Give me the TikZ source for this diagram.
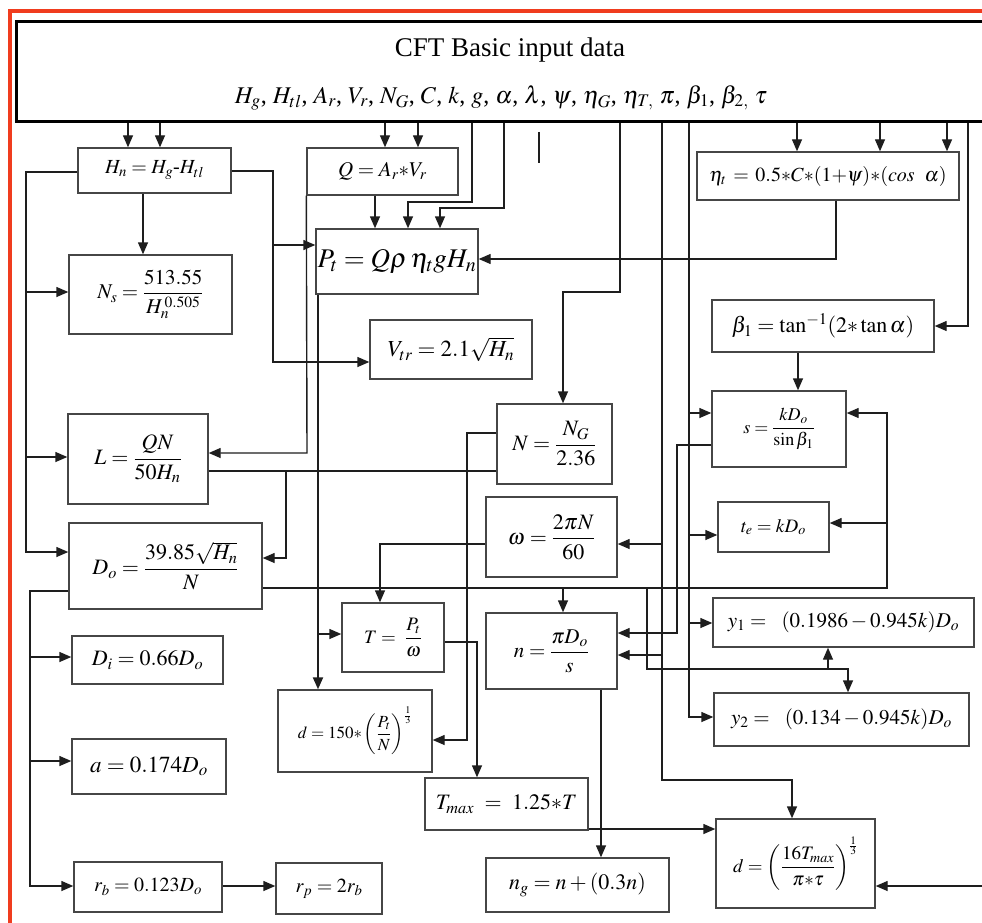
\documentclass[tikz,border=0pt]{standalone}
\usepackage{amsmath}
\usepackage{mathptmx}
\usepackage[no-math]{fontspec}
\setmainfont{Liberation Serif}
\usetikzlibrary{arrows.meta}
\definecolor{frame}{RGB}{240,60,30}
\definecolor{ln}{RGB}{30,30,30}
\definecolor{bx}{RGB}{70,70,70}
\tikzset{
  box/.style={draw=bx, line width=1.4pt, inner sep=0pt},
  conn/.style={draw=ln, line width=1.4pt},
  arr/.style={conn, -{Triangle[length=12pt,width=10pt]}},
  thickarr/.style={arr, line width=2pt},
}
\newcommand{\mkbox}[7]{\node[box, minimum width={#4pt-#2pt}, minimum height={#5pt-#3pt}] (#1) at ({(#2+#4)/2},{(#3+#5)/2}) {\fontsize{#6}{#6}\selectfont #7};}
\begin{document}
\begin{tikzpicture}[x=1pt,y=-1pt]
\useasboundingbox (0,0) rectangle (982,923);
\fill[white] (0,0) rectangle (982,923);
\clip (0,0) rectangle (982,923);
% red frame
\draw[frame, line width=4pt] (10,1100) -- (10,11) -- (1100,11);
% top box
\node[draw=black, line width=3pt, minimum width=1000pt, minimum height=100pt, inner sep=0pt] (top) at (516,72) {};
\node (title) at (510,50) {\fontsize{27}{27}\selectfont CFT Basic input data};
\node (vars) at (501,98) {\fontsize{24}{24}\selectfont $H_g$, $H_{tl}$, $A_r$, $V_r$, $N_G$, $C$, $k$, $g$, $\alpha$, $\lambda$, $\psi$, $\eta_G$, $\eta_{T,}$ $\pi$, $\beta_1$, $\beta_{2,}$ $\tau$};
% boxes
\mkbox{Hn}{78}{148}{231}{193}{20}{$H_n = H_g$-$H_{tl}$}
\mkbox{Q}{307}{148}{458}{195}{21}{$Q = A_r{*}V_r$\hspace{20pt}}
\mkbox{Pt}{316}{229}{478}{294}{27}{$P_t = Q\rho\,\eta_t gH_n$}
\mkbox{eta}{697}{152}{959}{200}{20}{$\eta_t\, = \,0.5{*}C{*}(1{+}\psi){*}(cos\ \ \alpha)$}
\mkbox{Ns}{69}{255}{232}{334}{21}{$N_s = \dfrac{513.55}{H_n^{\,0.505}}$}
\mkbox{Vtr}{370}{320}{532}{379}{23}{$V_{tr} = 2.1\sqrt{H_n}$}
\mkbox{beta}{712}{300}{934}{352}{22}{$\beta_1 = \tan^{-1}(2{*}\tan\alpha)$}
\mkbox{L}{68}{414}{208}{504}{22}{$L = \dfrac{QN}{50H_n}$}
\mkbox{N}{497}{404}{612}{484}{22}{$N = \dfrac{N_G}{2.36}$}
\mkbox{s}{712}{391}{846}{467}{18}{$s = \dfrac{kD_o}{\sin\beta_1}$}
\mkbox{Do}{69}{523}{262}{609}{22}{$D_o = \dfrac{39.85\sqrt{H_n}}{N}$}
\mkbox{omega}{486}{497}{617}{577}{22}{$\omega = \dfrac{2\pi N}{60}$}
\mkbox{te}{718}{502}{829}{552}{19}{$t_e = kD_o$}
\mkbox{T}{342}{603}{444}{672}{19}{$T = \ \dfrac{P_t}{\omega}$}
\mkbox{n}{486}{613}{617}{689}{21}{$n = \dfrac{\pi D_o}{s}$}
\mkbox{y1}{713}{598}{974}{647}{21}{$y_1 = \ \ (0.1986 - 0.945k)D_o$}
\mkbox{y2}{714}{693}{969}{746}{21}{$y_2 = \ \ (0.134 - 0.945k)D_o$}
\mkbox{Di}{72}{636}{223}{684}{22}{$D_i = 0.66D_o$}
\mkbox{dA}{278}{690}{432}{772}{17}{$d = 150{*}\left(\dfrac{P_t}{N}\right)^{\frac{1}{3}}$}
\mkbox{a}{72}{739}{226}{794}{23}{$a = 0.174D_o$}
\mkbox{Tmax}{425}{778}{588}{830}{22}{$T_{max}\ = \ 1.25{*}T$}
\mkbox{d}{716}{819}{875}{908}{19}{$d = \left(\dfrac{16T_{max}}{\pi{*}\tau}\right)^{\frac{1}{3}}$}
\mkbox{rb}{74}{862}{222}{912}{20}{$r_b = 0.123D_o$}
\mkbox{rp}{276}{863}{382}{914}{20}{$r_p = 2r_b$}
\mkbox{ng}{486}{858}{669}{912}{22}{$n_g = n + (0.3n)$}
% free coordinates
\coordinate (st1) at (539,132);
\coordinate (st2) at (539,163);
\coordinate (rin) at (995,886);
% connectors from top box
\draw[arr] (top.south -| 128,0) -- (Hn.north -| 128,0);
\draw[arr] (top.south -| 160,0) -- (Hn.north -| 160,0);
\draw[arr] (top.south -| 385,0) -- (Q.north -| 385,0);
\draw[arr] (top.south -| 418,0) -- (Q.north -| 418,0);
\draw[arr] (top.south -| 797,0) -- (eta.north -| 797,0);
\draw[arr] (top.south -| 880,0) -- (eta.north -| 880,0);
\draw[arr] (top.south -| 947,0) -- (eta.north -| 947,0);
\draw[arr] (top.south -| 472,0) -- (472,202) -| (Pt.north -| 408,0);
\draw[arr] (top.south -| 504,0) -- (504,208) -| (Pt.north -| 440,0);
\draw[conn] (st1) -- (st2);
\draw[arr] (top.south -| 620,0) -- (620,292) -| (N.north -| 563,0);
\draw[arr] (top.south -| 662,0) -- (662,780) -| (d.north -| 792,0);
\draw[arr] (662,544) -- (omega.east |- 0,544);
\draw[arr] (662,655) -- (n.east |- 0,655);
\draw[arr] (top.south -| 689,0) -- (689,717) -- (y2.west |- 0,717);
\draw[arr] (689,413) -- (s.west |- 0,413);
\draw[arr] (689,535) -- (te.west |- 0,535);
\draw[arr] (689,623) -- (y1.west |- 0,623);
\draw[arr] (top.south -| 968,0) |- (beta.east);
% others
\draw[arr] (Q.south -| 375,0) -- (Pt.north -| 375,0);
\draw[arr] (Q.south west) -- (307,453) -- (L.east |- 0,453);
\draw[arr] (Hn.south -| 143,0) -- (Ns.north -| 143,0);
\draw[arr] (Hn.east |- 0,171) -- (273,171) |- (Pt.west |- 0,245);
\draw[arr] (273,245) |- (Vtr.west |- 0,362);
\draw[arr] (Hn.west |- 0,172) -- (26,172) |- (Do.west |- 0,552);
\draw[arr] (26,292) -- (Ns.west |- 0,292);
\draw[arr] (26,457) -- (L.west |- 0,457);
\draw[arr] (eta.south -| 836,0) |- (Pt.east |- 0,259);
\draw[arr] (beta.south -| 798,0) -- (s.north -| 798,0);
\draw[thickarr] (Pt.south -| 318,0) -- (dA.north -| 318,0);
\draw[arr] (318,634) -- (T.west |- 0,634);
\draw[conn] (N.west |- 0,471) -- (L.east |- 0,471);
\draw[arr] (286,471) |- (Do.east |- 0,558);
\draw[arr] (N.west |- 0,433) -- (467,433) |- (dA.east |- 0,740);
\draw[arr] (omega.west |- 0,544) -| (T.north -| 380,0);
\draw[arr] (T.east |- 0,642) -| (Tmax.north -| 477,0);
\draw[arr] (Tmax.east |- 0,829) -- (d.west |- 0,829);
\draw[arr] (rin) -- (d.east |- 0,886);
\draw[arr] (Do.east |- 0,588) -- (887,588) |- (s.east |- 0,413);
\draw[arr] (887,523) -- (te.east |- 0,523);
\draw[arr] (563,588) -- (n.north -| 563,0);
\draw[arr] (647,588) -- (647,669) -| (y2.north -| 848,0);
\draw[arr] (828,669) -- (y1.south -| 828,0);
\draw[arr] (s.west |- 0,445) -- (677,445) |- (n.east |- 0,633);
\draw[arr] (n.south -| 601,0) -- (ng.north -| 601,0);
\draw[arr] (Do.west |- 0,591) -- (30,591) |- (rb.west |- 0,886);
\draw[arr] (30,657) -- (Di.west |- 0,657);
\draw[arr] (30,761) -- (a.west |- 0,761);
\draw[arr] (rb.east |- 0,886) -- (rp.west |- 0,886);
\end{tikzpicture}
\end{document}
